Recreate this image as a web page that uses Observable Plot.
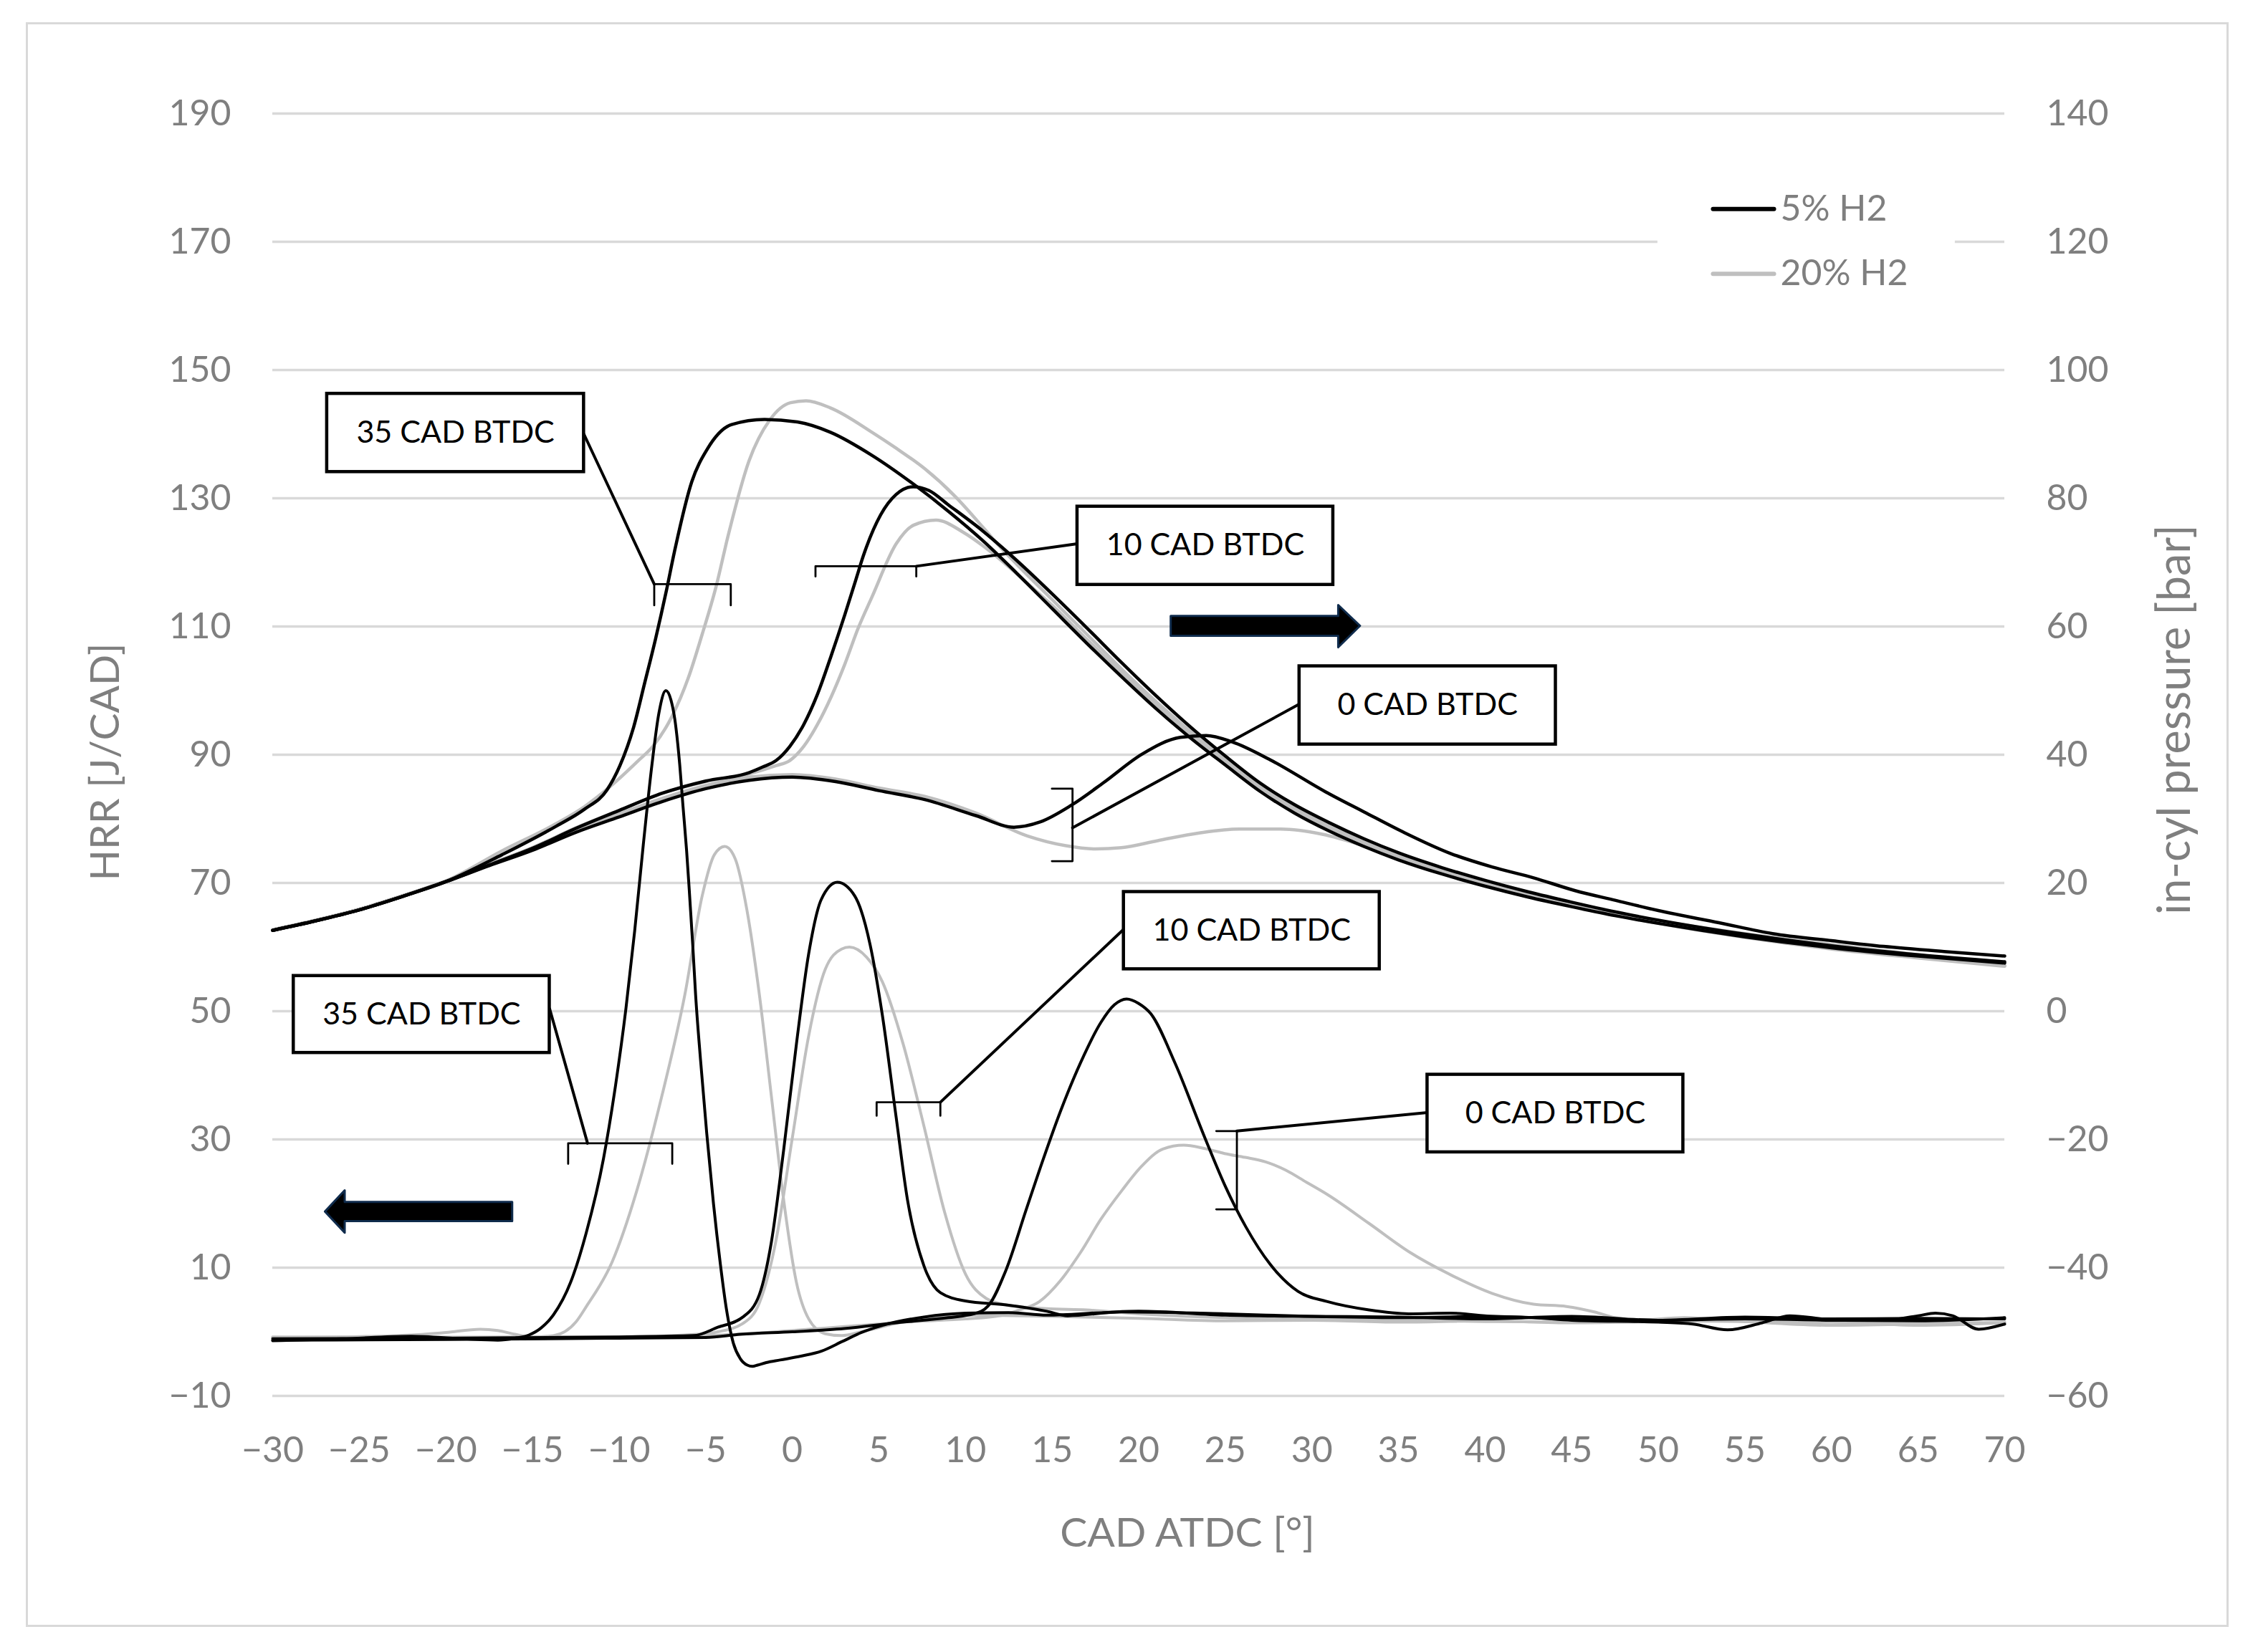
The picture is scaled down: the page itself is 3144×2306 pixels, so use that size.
<!DOCTYPE html>
<html><head><meta charset="utf-8">
<script src="https://cdn.jsdelivr.net/npm/d3@7"></script>
<script src="https://cdn.jsdelivr.net/npm/@observablehq/plot@0.6"></script>
<style>
html,body{margin:0;padding:0;background:#fff;}
#wrap{position:relative;width:3144px;height:2306px;overflow:hidden;}
#border{position:absolute;left:36px;top:31px;width:3074px;height:2240px;box-sizing:border-box;border:3.5px solid #d9d9d9;pointer-events:none;}
svg{display:block;}
</style></head>
<body><div id="wrap"><div id="border"></div></div>
<script>
// ---------- axes ----------
const xTicks = d3.range(-30, 71, 5);
const hrrTicks = d3.range(-10, 191, 20);      // left axis HRR [J/CAD]
const pressureOffset = 50;                      // right axis: bar = left value − 50

// ---------- in-cylinder pressure [bar] ----------
const p5_0 = [[-30,12.6],[-27.5,14.1],[-25,15.8],[-22.5,17.9],[-20,20.2],[-17.5,22.7],[-15,25.1],[-12.5,27.9],[-10,30.3],[-7.5,32.7],[-5,34.7],[-2.5,36.0],[0,36.5],[2.5,35.8],[5,34.4],[7.65,33.0],[10.6,30.5],[12.8,28.7],[14.3,29.5],[16.1,32.1],[18.0,35.7],[20.2,40.1],[22.4,42.7],[23.9,43.0],[25.4,42.0],[27.6,39.2],[30.8,34.2],[33,31.1],[35.3,27.9],[38,24.6],[40.4,22.5],[42.8,20.8],[45.2,18.8],[47.5,17.3],[50,15.7],[53.5,13.8],[56.6,12.1],[60,11.0],[63,10.1],[66.5,9.3],[70,8.6]];
const p20_0 = [[-30,12.7],[-27.5,14.2],[-25,15.9],[-22.5,18.0],[-20,20.3],[-17.5,22.9],[-15,25.5],[-12.5,28.4],[-10,30.8],[-7.5,33.2],[-5,35.2],[-2.5,36.5],[0,36.9],[2.5,36.2],[5,34.8],[7.65,33.5],[10.6,30.9],[13.6,27.3],[15.8,25.8],[17.5,25.3],[19,25.5],[21.1,26.6],[23.5,27.8],[25.8,28.4],[28.2,28.4],[30.6,27.6],[33,25.8],[35.5,23.4],[40,20.0],[45,16.7],[50,14.1],[55,12.1],[60,10.4],[65,8.8],[70,7.1]];
const p5_35 = [[-30,12.6],[-27.5,14.1],[-25,15.8],[-22.5,17.9],[-20,20.2],[-16.76,24.4],[-13.6,28.9],[-12.0,31.5],[-10.7,34.5],[-9.95,38.3],[-9.16,44.3],[-8.53,51.1],[-7.9,58.0],[-7.26,65.7],[-6.8,71.7],[-5.8,82.6],[-4.9,87.7],[-3.5,91.5],[-1.6,92.3],[0.3,91.9],[2.2,90.3],[4.6,86.7],[7,82.2],[9,78.0],[11,73.4],[13,68.2],[15,62.8],[17,57.4],[19,52.2],[21,47.2],[23,42.6],[25,38.4],[27,34.3],[29,30.9],[31,28.1],[33,25.7],[35,23.6],[37.5,21.4],[40,19.5],[42.5,17.8],[45,16.3],[47.5,14.9],[50,13.7],[55,11.6],[60,9.9],[65,8.6],[70,7.5]];
const p20_35 = [[-30,12.7],[-27.5,14.2],[-25,15.9],[-22.5,18.0],[-20,20.3],[-16.76,25.0],[-13.6,29.3],[-12.0,31.9],[-10.4,35.3],[-8.84,39.2],[-8.05,41.3],[-6.94,46.0],[-6.0,52.0],[-5.2,58.8],[-4.41,66.1],[-3.7,74.2],[-2.5,85.8],[-1.3,92.2],[-0.1,94.9],[0.8,95.2],[2.2,94.1],[4.6,90.3],[6,87.8],[7.65,84.6],[9.4,80.3],[11,75.5],[12,72.4],[13,69.6],[15,64.2],[17,58.8],[19,53.4],[21,48.3],[23,43.6],[25,39.2],[27,35.1],[29,31.7],[31,28.8],[33,26.4],[35,24.2],[37.5,22.0],[40,20.0],[42.5,18.2],[45,16.6],[47.5,15.1],[50,13.8],[55,11.6],[60,9.8],[65,8.4],[70,7.1]];
const p5_10 = [[-30,12.6],[-27.5,14.1],[-25,15.8],[-22.5,17.9],[-20,20.2],[-17.5,22.8],[-15,25.4],[-12.5,28.5],[-10,31.3],[-7.5,34.0],[-5,35.9],[-2.5,37.2],[-1.7,38.1],[-0.93,39.1],[-0.14,41.3],[0.66,44.7],[1.45,49.4],[2.24,55.4],[3.03,61.8],[3.66,67.2],[4.1,71.0],[5.1,77.4],[6.0,80.6],[7.0,81.8],[7.9,81.2],[9,79.0],[11,74.9],[13,70.2],[15,65.1],[17,59.8],[19,54.4],[21,49.2],[23,44.3],[25,39.8],[27,35.6],[29,32.2],[31,29.4],[33,26.9],[35,24.7],[37.5,22.4],[40,20.4],[42.5,18.6],[45,17.0],[47.5,15.5],[50,14.2],[55,12.0],[60,10.2],[65,8.8],[70,7.7]];
const p20_10 = [[-30,12.7],[-27.5,14.2],[-25,15.9],[-22.5,18.0],[-20,20.3],[-17.5,22.9],[-15,25.5],[-12.5,28.6],[-10,31.3],[-7.5,34.0],[-5,35.8],[-2.5,37.0],[-0.93,38.3],[-0.14,39.1],[0.66,41.3],[1.45,44.7],[2.24,49.0],[3.03,54.1],[3.8,59.7],[4.6,64.6],[6.0,72.9],[7.0,75.8],[8.3,76.6],[9.87,74.7],[11.34,71.9],[12.5,69.3],[13.5,66.9],[15,63.3],[17,58.0],[19,52.8],[21,47.8],[23,43.2],[25,38.9],[27,34.9],[29,31.5],[31,28.6],[33,26.1],[35,24.0],[37.5,21.8],[40,19.8],[42.5,18.0],[45,16.4],[47.5,15.0],[50,13.7],[55,11.5],[60,9.7],[65,8.3],[70,7.0]];

// ---------- heat release rate [J/CAD] ----------
const h5_35 = [[-30,-1.4],[-26,-1.1],[-22,-0.7],[-19,-1.1],[-17,-1.3],[-16,-1.0],[-15.2,-0.5],[-14.5,0.6],[-13.8,2.6],[-12.8,7.7],[-11.9,15.4],[-10.9,27.0],[-10.2,38.5],[-9.6,50.5],[-9.1,62.5],[-8.6,76.0],[-8.1,88.5],[-7.7,96.5],[-7.3,100.0],[-7.0,98.5],[-6.78,95.5],[-6.5,88.5],[-6.31,82.0],[-6.1,75.0],[-5.95,69.0],[-5.75,60.5],[-5.58,52.5],[-5.3,42.5],[-4.94,31.0],[-4.55,20.0],[-4.15,10.5],[-3.8,3.5],[-3.4,-1.8],[-3.0,-4.2],[-2.6,-5.2],[-2.3,-5.4],[-2.0,-5.2],[-1.5,-4.8],[-0.7,-4.4],[0.5,-3.8],[1.7,-3.0],[2.9,-1.5],[4.0,-0.1],[5.2,1.0],[7.6,2.3],[10,2.9],[12.5,3.0],[14.7,2.6],[18,3.0],[20,3.2],[25,2.6],[30,2.4],[35,2.3],[40,2.0],[45,2.4],[50,1.8],[55,2.0],[60,1.8],[65,1.7],[70,2.2]];
const h20_35 = [[-30,-0.9],[-26,-0.8],[-22,-0.5],[-20,-0.1],[-18,0.4],[-17,0.2],[-16,-0.4],[-15,-0.8],[-13.8,-0.6],[-12.5,1.5],[-11.9,3.9],[-10.4,10.9],[-9.0,21.8],[-7.6,36.0],[-6.2,52.6],[-5.2,68.0],[-4.5,74.4],[-3.9,75.7],[-3.3,73.8],[-2.6,65.5],[-1.9,52.6],[-1.2,36.6],[-0.5,20.6],[0.24,7.7],[0.95,2.0],[1.9,-0.3],[2.85,-0.6],[4.0,0.0],[6,1.3],[8,2.3],[10,2.6],[15,2.4],[20,2.1],[25,1.7],[30,1.8],[35,1.5],[40,1.7],[45,1.4],[50,1.6],[55,1.9],[58,1.3],[60,1.5],[65,1.0],[70,1.4]];
const h5_10 = [[-30,-1.1],[-20,-1.0],[-10,-0.8],[-5.7,-0.6],[-4.3,0.7],[-2.85,2.3],[-1.9,5.8],[-1.2,14.1],[-0.5,28.3],[0.24,44.9],[0.95,59.0],[1.67,67.4],[2.6,70.1],[3.6,68.0],[4.5,60.3],[5.2,49.4],[6.0,33.4],[6.65,20.6],[7.6,10.3],[8.55,6.1],[10.0,4.8],[12.35,4.2],[14.7,3.2],[15.9,2.5],[19,3.1],[25,2.8],[30,2.4],[35,2.2],[40,2.4],[45,2.0],[50,1.8],[55,2.3],[60,2.0],[65,2.1],[70,2.0]];
const h20_10 = [[-30,-0.9],[-10,-0.8],[-5,-0.3],[-4.3,0.0],[-2.85,1.3],[-1.9,4.5],[-0.95,14.1],[0.0,30.2],[0.95,46.2],[1.9,56.5],[2.85,59.7],[3.3,60.0],[4.3,58.4],[5.2,54.6],[6.4,44.9],[7.6,32.1],[8.8,18.6],[10.0,9.0],[11.2,5.2],[12.35,4.2],[14.7,3.6],[17,3.4],[20,2.8],[25,2.2],[30,2.0],[35,1.8],[40,1.6],[45,1.5],[50,1.7],[55,1.6],[60,1.5],[65,1.3],[70,1.4]];
const h5_0 = [[-30,-1.3],[-20,-1.2],[-10,-1.0],[-5,-0.9],[-3,-0.4],[0,0.0],[3,0.5],[6,1.4],[9,2.2],[10.5,2.8],[11.3,4.0],[12.35,9.7],[13.5,19.0],[14.5,27.0],[15.5,34.5],[16.65,42.0],[17.83,48.3],[18.6,51.0],[19.3,51.9],[20.0,51.2],[20.7,49.6],[22.1,41.9],[23.8,30.4],[25.0,22.7],[26.2,16.3],[27.6,10.5],[29.2,6.3],[30.9,4.7],[33.3,3.4],[35.6,2.8],[38,2.9],[40.4,2.4],[42.8,2.2],[45,1.8],[50,1.5],[52,1.2],[54,0.3],[56,1.4],[57.6,2.5],[60,1.9],[63,1.8],[65,2.5],[66,2.9],[67,2.5],[68.5,0.4],[70,1.2]];
const h20_0 = [[-30,-0.8],[-20,-0.9],[-10,-0.8],[-5,-0.6],[-2,-0.2],[0,0.2],[2,0.6],[4,1.0],[7,1.6],[10,2.0],[12,2.5],[13,3.3],[14.27,4.7],[15.46,7.9],[16.65,12.4],[17.83,17.6],[19.02,22.0],[20.2,25.9],[21.4,28.5],[22.6,29.1],[23.77,28.6],[24.96,27.8],[26.15,27.2],[27.33,26.5],[28.5,25.2],[29.7,23.3],[30.9,21.4],[33.3,16.9],[35.65,12.4],[38.0,8.9],[40.4,6.0],[42.8,4.3],[44.7,3.95],[46.3,3.1],[47.5,2.2],[48.7,1.8],[51.5,2.2],[55,1.6],[60,1.0],[65,1.2],[70,1.5]];

// ---------- labels ----------
const seriesNames = ["5% H2", "20% H2"];
const timingLabels = ["35 CAD BTDC", "10 CAD BTDC", "0 CAD BTDC"];
const axisTitles = {x: "CAD ATDC [°]", left: "HRR [J/CAD]", right: "in-cyl pressure [bar]"};

// ---------- build ----------
const rows = (arr, id) => arr.map(([x, v]) => ({x, v, id}));
const pBlack = [...rows(p5_35,"a"), ...rows(p5_10,"b"), ...rows(p5_0,"c")];
const pGrey  = [...rows(p20_35,"a"), ...rows(p20_10,"b"), ...rows(p20_0,"c")];
const hBlack = [...rows(h5_35,"a"), ...rows(h5_10,"b"), ...rows(h5_0,"c")];
const hGrey  = [...rows(h20_35,"a"), ...rows(h20_10,"b"), ...rows(h20_0,"c")];

const fmt = d => (d < 0 ? "\u2212" : "") + Math.abs(d);
const GREY_TXT = "#7f7f7f", BLACK = "#000000", GREY = "#bfbfbf";
const FONT = "Lato, 'Open Sans', sans-serif";

// annotation layout (in chart units: x = CAD, y = left-axis value)
const boxes = [
  {label: timingLabels[0], x1:-26.86, x2:-12.03, y1:134.1, y2:146.3},
  {label: timingLabels[1], x1:16.46,  x2:31.23,  y1:116.5, y2:128.7},
  {label: timingLabels[2], x1:29.28,  x2:44.08,  y1:91.6,  y2:103.8},
  {label: timingLabels[0], x1:-28.79, x2:-14.01, y1:43.5,  y2:55.5},
  {label: timingLabels[1], x1:19.14,  x2:33.91,  y1:56.55, y2:68.6},
  {label: timingLabels[2], x1:36.67,  x2:51.44,  y1:28.0,  y2:40.1}
];
const leaders = [
  {id:1, pts:[[-12.03,140.0],[-7.97,116.6]]},
  {id:2, pts:[[7.16,119.4],[16.46,122.9]]},
  {id:3, pts:[[16.18,78.6],[29.28,97.9]]},
  {id:4, pts:[[-14.01,50.4],[-11.82,29.4]]},
  {id:5, pts:[[8.55,35.8],[19.14,62.8]]},
  {id:6, pts:[[25.67,31.3],[36.67,34.2]]}
].flatMap(l => l.pts.map(([x,y]) => ({x, y, id:l.id})));
const brackets = [
  {id:1, pts:[[-7.97,113.3],[-7.97,116.6],[-3.55,116.6],[-3.55,113.3]]},
  {id:2, pts:[[1.34,117.8],[1.34,119.4],[7.16,119.4],[7.16,117.8]]},
  {id:3, pts:[[14.99,84.7],[16.18,84.7],[16.18,73.4],[14.99,73.4]]},
  {id:4, pts:[[-12.94,26.2],[-12.94,29.4],[-6.93,29.4],[-6.93,26.2]]},
  {id:5, pts:[[4.87,33.7],[4.87,35.8],[8.55,35.8],[8.55,33.7]]},
  {id:6, pts:[[24.48,31.3],[25.67,31.3],[25.67,19.1],[24.48,19.1]]}
].flatMap(l => l.pts.map(([x,y]) => ({x, y, id:l.id})));
const arrows = [
  {id:"r", x:21.87, y1:108.5, y2:111.6}, {id:"r", x:31.54, y1:108.5, y2:111.6},
  {id:"r", x:31.54, y1:106.7, y2:113.3}, {id:"r", x:32.8, y1:110.05, y2:110.05},
  {id:"l", x:-26.96, y1:18.7, y2:18.7}, {id:"l", x:-25.82, y1:15.4, y2:22.0},
  {id:"l", x:-25.82, y1:17.2, y2:20.2}, {id:"l", x:-16.15, y1:17.2, y2:20.2}
];
const legend = [
  {name: seriesNames[0], y: 175.1, stroke: BLACK},
  {name: seriesNames[1], y: 165.0, stroke: GREY}
];

const chart = Plot.plot({
  width: 3144, height: 2306,
  marginLeft: 380, marginRight: 347, marginTop: 158, marginBottom: 358,
  x: {domain: [-30, 70]},
  y: {domain: [-10, 190]},
  style: {fontFamily: FONT, fontSize: "50px", background: "white", overflow: "visible"},
  marks: [
    Plot.gridY({ticks: hrrTicks, stroke: "#d9d9d9", strokeOpacity: 1, strokeWidth: 3.5}),
    Plot.axisX({ticks: xTicks, tickSize: 0, tickPadding: 57, tickFormat: fmt, fontSize: 50, fill: GREY_TXT, label: null}),
    Plot.axisY({anchor: "left", ticks: hrrTicks, tickSize: 0, tickPadding: 58, tickFormat: fmt, fontSize: 50, fill: GREY_TXT, label: null}),
    Plot.axisY({anchor: "right", ticks: hrrTicks, tickSize: 0, tickPadding: 58, tickFormat: d => fmt(d - pressureOffset), fontSize: 50, fill: GREY_TXT, label: null}),
    Plot.text([axisTitles.x], {text: d => d, frameAnchor: "bottom", dx: 68, dy: 210, fontSize: 57, fill: GREY_TXT, textAnchor: "middle"}),
    Plot.text([axisTitles.left], {text: d => d, frameAnchor: "left", dx: -233, dy: 10, rotate: -90, fontSize: 57, fill: GREY_TXT, textAnchor: "middle"}),
    Plot.text([axisTitles.right], {text: d => d, frameAnchor: "right", dx: 238, dy: -49, rotate: -90, fontSize: 63, fill: GREY_TXT, textAnchor: "middle"}),
    // legend
    Plot.rect([0], {x1: () => 49.97, x2: () => 67.14, y1: () => 161, y2: () => 179, fill: "white"}),
    Plot.link(legend, {x1: () => 53.16, x2: () => 56.68, y1: "y", y2: "y", stroke: "stroke", strokeWidth: 6, strokeLinecap: "round"}),
    Plot.text(legend, {x: () => 57.05, y: "y", text: "name", textAnchor: "start", fontSize: 50, fill: GREY_TXT}),
    // curves
    Plot.line(pGrey, {x: "x", y: d => d.v + pressureOffset, z: "id", stroke: GREY, strokeWidth: 4.5, curve: "monotone-x"}),
    Plot.line(hGrey, {x: "x", y: "v", z: "id", stroke: GREY, strokeWidth: 4, curve: "monotone-x"}),
    Plot.line(pBlack, {x: "x", y: d => d.v + pressureOffset, z: "id", stroke: BLACK, strokeWidth: 4.5, curve: "monotone-x"}),
    Plot.line(hBlack, {x: "x", y: "v", z: "id", stroke: BLACK, strokeWidth: 4, curve: "monotone-x"}),
    // annotations
    Plot.line(brackets, {x: "x", y: "y", z: "id", stroke: BLACK, strokeWidth: 2.8, curve: "linear"}),
    Plot.line(leaders, {x: "x", y: "y", z: "id", stroke: BLACK, strokeWidth: 4, curve: "linear"}),
    Plot.rect(boxes, {x1: "x1", x2: "x2", y1: "y1", y2: "y2", fill: "white", stroke: BLACK, strokeWidth: 4.5}),
    Plot.text(boxes, {x: d => (d.x1 + d.x2) / 2, y: d => (d.y1 + d.y2) / 2, text: "label", fontSize: 43, fill: BLACK}),
    Plot.areaY(arrows, {x: "x", y1: "y1", y2: "y2", z: "id", fill: BLACK, stroke: "#0f2b4c", strokeWidth: 3, curve: "linear"})
  ]
});
document.getElementById("wrap").prepend(chart);
</script>
</body></html>
